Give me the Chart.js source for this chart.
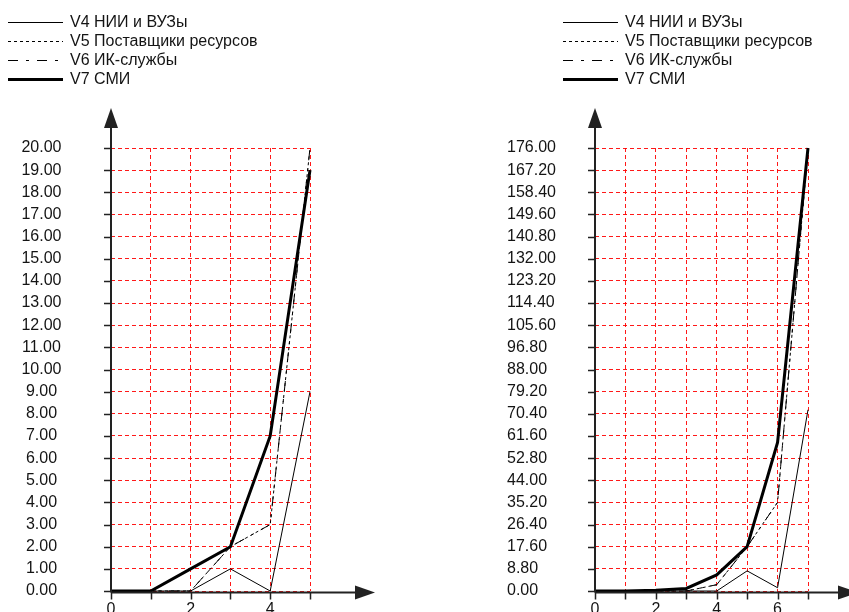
<!DOCTYPE html>
<html>
<head>
<meta charset="utf-8">
<script src="https://cdn.jsdelivr.net/npm/chart.js@4/dist/chart.umd.min.js"></script>
<style>
  html, body { margin: 0; padding: 0; background: #fff; overflow: hidden; width: 849px; height: 612px; }
  .panel { position: absolute; top: 0; height: 612px; }
  canvas { display: block; }
</style>
</head>
<body>
<div class="panel" style="left:0;width:424px"><canvas id="leftChart" width="424" height="612"></canvas></div>
<div class="panel" style="left:424px;width:425px"><canvas id="rightChart" width="425" height="612"></canvas></div>
<script>
// Series names (same four series on both panels)
const seriesNames = ['V4 НИИ и ВУЗы', 'V5 Поставщики ресурсов', 'V6 ИК-службы', 'V7 СМИ'];

// Left panel: steps 0..5
const leftSteps = [0, 1, 2, 3, 4, 5];
const leftV4 = [0, 0, 0, 1, 0, 9];
const leftV5 = [0, 0, 0, 2, 3, 20];
const leftV6 = [0, 0, 0, 2, 3, 20];
const leftV7 = [0, 0, 1, 2, 7, 19];
const leftYTicks = [0, 1, 2, 3, 4, 5, 6, 7, 8, 9, 10, 11, 12, 13, 14, 15, 16, 17, 18, 19, 20];
const leftXLabels = ['0', '', '2', '', '4', ''];

// Right panel: steps 0..7
const rightSteps = [0, 1, 2, 3, 4, 5, 6, 7];
const rightV4 = [0, 0, 0, 0, 0, 8, 1.3, 72];
const rightV5 = [0, 0, 0, 0, 2.5, 17.6, 35.2, 176];
const rightV6 = [0, 0, 0, 0, 2.5, 17.6, 35.2, 176];
const rightV7 = [0, 0, 0.3, 1, 6.4, 17.6, 59, 176];
const rightYTicks = [0, 8.8, 17.6, 26.4, 35.2, 44, 52.8, 61.6, 70.4, 79.2, 88, 96.8, 105.6, 114.4, 123.2, 132, 140.8, 149.6, 158.4, 167.2, 176];
const rightXLabels = ['0', '', '2', '', '4', '', '6', ''];

const FONT = '"Liberation Sans", Arial, sans-serif';
const TEXT = '#141414';

// Line styles per series
const styles = [
  { borderWidth: 1, borderDash: [] },
  { borderWidth: 1, borderDash: [3, 3] },
  { borderWidth: 1, borderDash: [10, 8, 3, 8] },
  { borderWidth: 3, borderDash: [] }
];

function makeDatasets(steps, seriesList) {
  return seriesList.map((vals, i) => ({
    label: seriesNames[i],
    data: steps.map((s, k) => ({ x: s, y: vals[k] })),
    borderColor: '#000',
    backgroundColor: '#000',
    borderWidth: styles[i].borderWidth,
    borderDash: styles[i].borderDash,
    pointRadius: 0,
    tension: 0,
    fill: false,
    clip: 6
  }));
}

// Stacked legend in the top-left corner with line samples
const sideLegend = {
  id: 'sideLegend',
  afterDraw(chart, args, o) {
    const ctx = chart.ctx;
    ctx.save();
    ctx.font = o.font;
    ctx.textBaseline = 'middle';
    chart.data.datasets.forEach((ds, i) => {
      const y = o.top + i * o.rowHeight;
      const ly = ds.borderWidth % 2 ? y + 0.5 : y;
      ctx.beginPath();
      ctx.setLineDash(ds.borderDash || []);
      ctx.lineWidth = ds.borderWidth;
      ctx.strokeStyle = ds.borderColor;
      ctx.moveTo(o.left, ly);
      ctx.lineTo(o.left + o.sampleWidth, ly);
      ctx.stroke();
      ctx.setLineDash([]);
      ctx.fillStyle = o.color;
      ctx.fillText(ds.label, o.left + o.sampleWidth + o.gap, y + 1);
    });
    ctx.restore();
  }
};

// Axis lines with arrow heads and black tick marks
const arrowAxes = {
  id: 'arrowAxes',
  afterDatasetsDraw(chart, args, o) {
    const { ctx, chartArea: a, scales } = chart;
    const ox = a.left;
    const oy = a.bottom + 1.5;
    ctx.save();
    ctx.strokeStyle = o.color;
    ctx.fillStyle = o.color;
    ctx.lineWidth = o.lineWidth;
    // vertical axis
    ctx.beginPath();
    ctx.moveTo(ox, oy);
    ctx.lineTo(ox, a.top - o.yOver);
    ctx.stroke();
    ctx.beginPath();
    ctx.moveTo(ox, a.top - o.yOver - o.headLen);
    ctx.lineTo(ox - o.headHalf, a.top - o.yOver);
    ctx.lineTo(ox + o.headHalf, a.top - o.yOver);
    ctx.closePath();
    ctx.fill();
    // horizontal axis
    ctx.beginPath();
    ctx.moveTo(ox, oy);
    ctx.lineTo(ox + o.xLen, oy);
    ctx.stroke();
    ctx.beginPath();
    ctx.moveTo(ox + o.xLen + o.headLen, oy);
    ctx.lineTo(ox + o.xLen, oy - o.headHalf);
    ctx.lineTo(ox + o.xLen, oy + o.headHalf);
    ctx.closePath();
    ctx.fill();
    // tick marks
    ctx.lineWidth = o.tickWidth;
    ctx.beginPath();
    scales.y.ticks.forEach(t => {
      const py = Math.round(scales.y.getPixelForValue(t.value)) + 0.5;
      ctx.moveTo(ox - o.tickLen, py);
      ctx.lineTo(ox, py);
    });
    scales.x.ticks.forEach(t => {
      const px = Math.round(scales.x.getPixelForValue(t.value)) + 0.5;
      ctx.moveTo(px, oy);
      ctx.lineTo(px, oy + o.tickLen);
    });
    ctx.stroke();
    ctx.restore();
  }
};

function buildChart(id, cfg) {
  const gridColor = 'rgba(255,0,0,0.9)';
  return new Chart(document.getElementById(id), {
    type: 'line',
    data: { datasets: makeDatasets(cfg.steps, cfg.series) },
    options: {
      responsive: false,
      animation: false,
      devicePixelRatio: 1,
      layout: { padding: { top: 148, right: cfg.padRight, bottom: 0, left: cfg.padLeft } },
      plugins: {
        legend: { display: false },
        tooltip: { enabled: false },
        sideLegend: { left: cfg.legendLeft, top: 22, rowHeight: 19, sampleWidth: 55, gap: 7, font: '16px ' + FONT, color: TEXT },
        arrowAxes: { color: '#222', lineWidth: 2, yOver: 20, headLen: 20, headHalf: 7, xLen: cfg.xLen, tickLen: 7, tickWidth: 1.5 }
      },
      scales: {
        x: {
          type: 'linear',
          min: cfg.steps[0],
          max: cfg.steps[cfg.steps.length - 1],
          afterBuildTicks: s => { s.ticks = cfg.steps.map(v => ({ value: v })); },
          afterFit: s => { s.height = 21; },
          grid: { color: gridColor, lineWidth: 1, drawTicks: false },
          border: { display: false, dash: [4, 3] },
          ticks: {
            autoSkip: false,
            maxRotation: 0,
            padding: 9,
            color: TEXT,
            font: { family: FONT, size: 16 },
            callback: (v, i) => cfg.xLabels[i]
          }
        },
        y: {
          type: 'linear',
          min: cfg.yTicks[0],
          max: cfg.yTicks[cfg.yTicks.length - 1],
          afterBuildTicks: s => { s.ticks = cfg.yTicks.map(v => ({ value: v })); },
          afterFit: s => { s.width = cfg.axisLeft - cfg.padLeft; },
          // invisible tick marks reserve the gap between labels and axis
          grid: { color: gridColor, lineWidth: 1, drawTicks: true, tickLength: cfg.yGap, tickColor: 'rgba(0,0,0,0)' },
          border: { display: false, dash: [4, 3] },
          ticks: {
            autoSkip: false,
            crossAlign: cfg.labelAlign,
            padding: 0,
            color: TEXT,
            font: { family: FONT, size: 16 },
            callback: v => Number(v).toFixed(2)
          }
        }
      }
    },
    plugins: [sideLegend, arrowAxes]
  });
}

// dashed grid lines
Chart.defaults.scale.grid.borderDash = [4, 3];

buildChart('leftChart', {
  steps: leftSteps,
  series: [leftV4, leftV5, leftV6, leftV7],
  yTicks: leftYTicks,
  xLabels: leftXLabels,
  axisLeft: 111,
  padLeft: 0,
  padRight: 424 - 310,
  labelAlign: 'center',
  yGap: 49.5,
  xLen: 244,
  legendLeft: 8
});

buildChart('rightChart', {
  steps: rightSteps,
  series: [rightV4, rightV5, rightV6, rightV7],
  yTicks: rightYTicks,
  xLabels: rightXLabels,
  axisLeft: 171,
  padLeft: 83,
  padRight: 425 - 384,
  labelAlign: 'far',
  yGap: 38,
  xLen: 243,
  legendLeft: 139
});
</script>
</body>
</html>
